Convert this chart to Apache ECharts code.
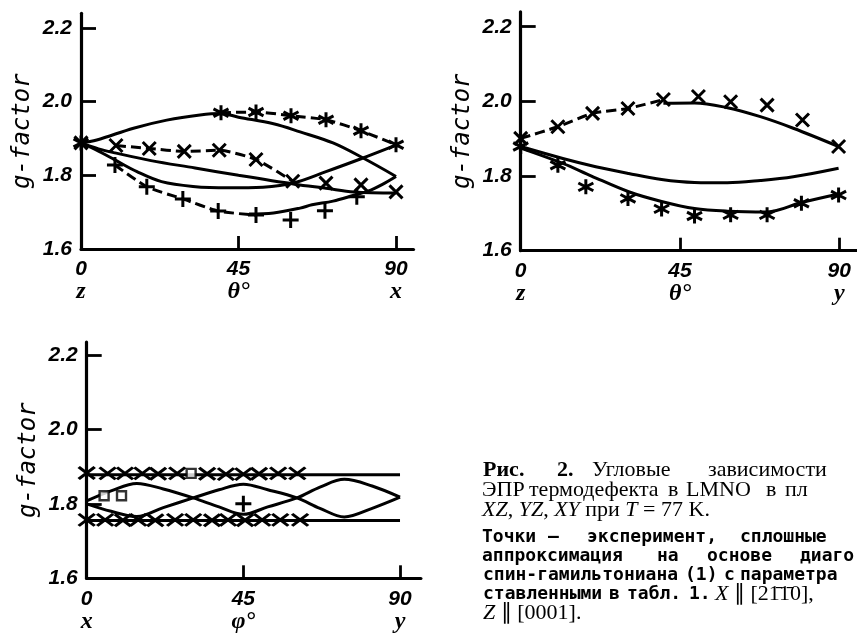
<!DOCTYPE html>
<html><head><meta charset="utf-8">
<script src="https://cdn.jsdelivr.net/npm/echarts@6/dist/echarts.min.js"></script>
<style>html,body{margin:0;padding:0;background:#fff}#c{width:857px;height:643px}</style>
</head><body><div id="c"></div>
<script>
// ---------------- data ----------------
const xTickValues = [0, 45, 90];
const yTickValues = [1.6, 1.8, 2.0, 2.2];
const xzLetters = ['z', 'θ°', 'x'];
const yzLetters = ['z', 'θ°', 'y'];
const xyLetters = ['x', 'φ°', 'y'];

// XZ plane (top left)
const xzStar = [[0,1.888],[40,1.97],[50,1.972],[60,1.962],[70,1.951],[80,1.921],[90,1.883]];
const xzCross = [[0,1.888],[10,1.881],[19.5,1.873],[29.5,1.865],[39.5,1.868],[50,1.843],[60.5,1.784],[70,1.779],[80,1.774],[90,1.755]];
const xzPlus = [[9.7,1.828],[18.8,1.769],[29.1,1.736],[39.2,1.703],[50,1.692],[59.9,1.679],[69.7,1.704],[78.8,1.742]];
const xzFit1 = [[0,1.888],[4.5,1.896],[15,1.928],[24.5,1.95],[34,1.964],[40,1.968],[45,1.958],[55,1.94],[62.6,1.918],[72,1.888],[80.6,1.847],[90,1.797]];
const xzFit2 = [[0,1.888],[5,1.872],[9.7,1.861],[20,1.84],[32.6,1.82],[45,1.80],[61,1.776],[70,1.765],[78,1.755],[90,1.752]];
const xzFit3 = [[0,1.888],[5,1.866],[9.7,1.842],[16,1.81],[23,1.783],[32,1.77],[42,1.766],[52,1.768],[61,1.78],[70,1.81],[80,1.845],[90,1.882]];
const xzFit4 = [[48,1.695],[55,1.698],[62.6,1.711],[66,1.72],[72,1.73],[78,1.746],[82,1.757],[86,1.775],[90,1.797]];

// YZ plane (top right)
const yzCross = [[0,1.901],[10.5,1.932],[20.3,1.968],[30.3,1.981],[40.3,2.005],[50.2,2.013],[59.3,1.999],[69.6,1.990],[79.6,1.950],[89.8,1.879]];
const yzFitUpper = [[40.3,1.995],[49.1,1.996],[58.4,1.983],[67.7,1.959],[77,1.928],[89.8,1.879]];
const yzFitMid = [[0,1.879],[11.9,1.847],[21.2,1.825],[30.5,1.807],[39.8,1.791],[49.1,1.783],[58.4,1.782],[67.7,1.788],[77,1.798],[89.8,1.821]];
const yzStar = [[0,1.879],[10.5,1.829],[18.4,1.771],[30.3,1.740],[39.8,1.712],[49.1,1.693],[59.3,1.696],[69.6,1.696],[79.3,1.727],[89.8,1.749]];
const yzFitLower = [[0,1.875],[11.9,1.834],[20,1.80],[30.5,1.758],[39.8,1.732],[49.1,1.713],[58.4,1.706],[69.6,1.704],[79.3,1.729],[89.8,1.752]];

// XY plane (bottom left)
const xyCrossUpper = [[0,1.883],[6,1.882],[11,1.882],[16,1.882],[20.5,1.881],[26,1.882],[34.6,1.881],[40,1.880],[45,1.880],[49.5,1.881],[55,1.882],[60.5,1.882]];
const xyCrossLower = [[0,1.757],[5.3,1.757],[10.4,1.756],[14.8,1.757],[19.7,1.756],[25.4,1.757],[30.6,1.757],[36,1.756],[40.6,1.757],[45.5,1.756],[50.4,1.757],[55.6,1.757],[61.3,1.757]];
const xySquare = [[5,1.822],[10,1.822],[30,1.882]];
const xyPlus = [[45,1.80]];
const xyFitTop = [[0,1.878],[90,1.878]];
const xyFitBottom = [[0,1.755],[90,1.755]];
const xyFitZ1 = [[0,1.808],[7,1.835],[14.4,1.855],[22,1.84],[30.6,1.816],[38,1.792],[45,1.772],[52,1.792],[60.4,1.816],[67,1.845],[74,1.866],[82,1.848],[90,1.818]];
const xyFitZ2 = [[0,1.80],[7,1.78],[14.4,1.766],[22,1.79],[30.6,1.816],[38,1.838],[45,1.853],[52,1.838],[60.4,1.816],[67,1.788],[74,1.765],[82,1.788],[90,1.818]];

// ---------------- styling ----------------
const SYM_X = 'path://M0,0L10,10M10,0L0,10';
const SYM_STAR = 'path://M5,0L5,10M0.6,2.4L9.4,7.6M0.6,7.6L9.4,2.4';
const SYM_PLUS = 'path://M5,0L5,10M0,5L10,5';
const LBL_FONT = {fontFamily:'Liberation Sans', fontWeight:'bold', fontStyle:'italic', fontSize:21, color:'#000'};
const LET_FONT = {fontFamily:'Liberation Serif', fontWeight:'bold', fontStyle:'italic', fontSize:24, color:'#000'};

const grids = [
  {left:81, top:13.3, width:332.5, height:235.7, xmax:95, ymax:2.24, letters:xzLetters},
  {left:520.7, top:11.8, width:340.5, height:238.9, xmax:95, ymax:2.24, letters:yzLetters},
  {left:86.7, top:342, width:334.2, height:236.3, xmax:96, ymax:2.235, letters:xyLetters}
];

const xAxes = [], yAxes = [];
grids.forEach((g, i) => {
  xAxes.push({
    type:'value', gridIndex:i, min:0, max:g.xmax, position:'bottom',
    axisLine:{onZero:false, lineStyle:{color:'#000', width:3.2}},
    axisTick:{show:true, inside:true, length:13, lineStyle:{color:'#000', width:2.8}, customValues:[45,90]},
    axisLabel:Object.assign({customValues:xTickValues, margin:10, formatter:v=>String(v)}, LBL_FONT),
    splitLine:{show:false}
  });
  xAxes.push({
    type:'value', gridIndex:i, min:0, max:g.xmax, position:'bottom', offset:22,
    axisLine:{show:false}, axisTick:{show:false},
    axisLabel:Object.assign({customValues:xTickValues, margin:9, formatter:v=>g.letters[xTickValues.indexOf(v)]}, LET_FONT),
    splitLine:{show:false}
  });
  yAxes.push({
    type:'value', gridIndex:i, min:1.6, max:g.ymax,
    axisLine:{onZero:false, lineStyle:{color:'#000', width:3.2}},
    axisTick:{show:true, inside:true, length:15, lineStyle:{color:'#000', width:2.8}, customValues:[1.8,2.0,2.2]},
    axisLabel:Object.assign({customValues:yTickValues, margin:9, formatter:v=>v.toFixed(1)}, LBL_FONT),
    splitLine:{show:false},
    name:'g-factor', nameLocation:'middle', nameGap:46, nameRotate:90,
    nameTextStyle:{fontFamily:'DejaVu Sans Mono', fontStyle:'italic', fontSize:24, color:'#000'}
  });
});

function curve(data, gi, dashed, smooth) {
  return {type:'line', xAxisIndex:gi*2, yAxisIndex:gi, data:data, symbol:'none',
    smooth: smooth === undefined ? 0.35 : smooth, silent:true, z:2,
    lineStyle:{color:'#000', width:3, type: dashed ? [10,5] : 'solid'}};
}
function marks(data, gi, sym, size, bw) {
  return {type:'scatter', xAxisIndex:gi*2, yAxisIndex:gi, data:data, symbol:sym, symbolSize:size,
    silent:true, z:3, itemStyle:{color:'rgba(0,0,0,0)', borderColor:'#000', borderWidth:bw || 3, opacity:1}};
}

const series = [
  // XZ
  curve(xzFit1, 0), curve(xzFit2, 0), curve(xzFit3, 0), curve(xzFit4, 0),
  curve(xzStar.slice(1), 0, true, 0.2), curve(xzCross.slice(1, 7), 0, true, 0.2), curve(xzPlus.slice(0, 5), 0, true, 0.2),
  marks(xzStar, 0, SYM_STAR, 15), marks(xzCross, 0, SYM_X, 13), marks(xzPlus, 0, SYM_PLUS, 16),
  // YZ
  curve(yzCross.slice(0, 5), 1, true, 0.2), curve(yzFitUpper, 1), curve(yzFitMid, 1), curve(yzFitLower, 1),
  marks(yzCross, 1, SYM_X, 13), marks(yzStar, 1, SYM_STAR, 15),
  // XY
  curve(xyFitTop, 2, false, 0), curve(xyFitBottom, 2, false, 0), curve(xyFitZ1, 2), curve(xyFitZ2, 2),
  marks(xyCrossUpper, 2, SYM_X, [16,12]), marks(xyCrossLower, 2, SYM_X, [16,12]), marks(xyPlus, 2, SYM_PLUS, 16),
  {type:'scatter', xAxisIndex:4, yAxisIndex:2, data:xySquare, symbol:'rect', symbolSize:9, silent:true, z:4,
   itemStyle:{color:'#fff', borderColor:'#000', borderWidth:2.4}}
];

// ---------------- caption ----------------
const SERIF_FONT = '22px "Liberation Serif"';
const SMALL_FONT = 'bold 18px "DejaVu Sans Mono"';
const captionLines = [
  {y:470, font:SERIF_FONT, words:[[483,'Рис.','bold'],[557,'2.','bold'],[592,'Угловые'],[708,'зависимости']]},
  {y:490, font:SERIF_FONT, words:[[482,'ЭПР'],[529,'термодефекта'],[668,'в'],[686,'LMNO'],[766,'в'],[785,'пл']]},
  {y:510, font:SERIF_FONT, words:[[482,'{i|XZ}, {i|YZ}, {i|XY} при {i|T} = 77 K.']]},
  {y:537, font:SMALL_FONT, words:[[482,'Точки'],[548,'—'],[587,'эксперимент,'],[740,'сплошные']]},
  {y:556, font:SMALL_FONT, words:[[482,'аппроксимация'],[657,'на'],[707,'основе'],[800,'диаго']]},
  {y:575, font:SMALL_FONT, words:[[483,'спин-гамильтониана'],[685,'(1)'],[724,'с'],[740,'параметра']]},
  {y:594, font:SMALL_FONT, words:[[483,'ставленными'],[609,'в'],[627,'табл.'],[689,'1.']]},
  {y:594, font:SERIF_FONT, words:[[715,'{i|X} ∥ [21̄1̄0],']]},
  {y:613, font:SERIF_FONT, words:[[483,'{i|Z} ∥ [0001].']]}
];
const graphics = [];
captionLines.forEach(line => {
  line.words.forEach(w => {
    graphics.push({type:'text', x:w[0], y:line.y, silent:true, style:{
      text:w[1], font:(w[2] === 'bold' ? 'bold ' : '') + line.font, fill:'#000', align:'left', verticalAlign:'middle',
      rich:{i:{font:'italic 22px "Liberation Serif"', fill:'#000'}}
    }});
  });
});

const chart = echarts.init(document.getElementById('c'), null, {renderer:'canvas'});
chart.setOption({
  animation:false,
  backgroundColor:'#fff',
  grid: grids.map(g => ({left:g.left, top:g.top, width:g.width, height:g.height, containLabel:false})),
  xAxis: xAxes,
  yAxis: yAxes,
  series: series,
  graphic: graphics
});
</script>
</body></html>
